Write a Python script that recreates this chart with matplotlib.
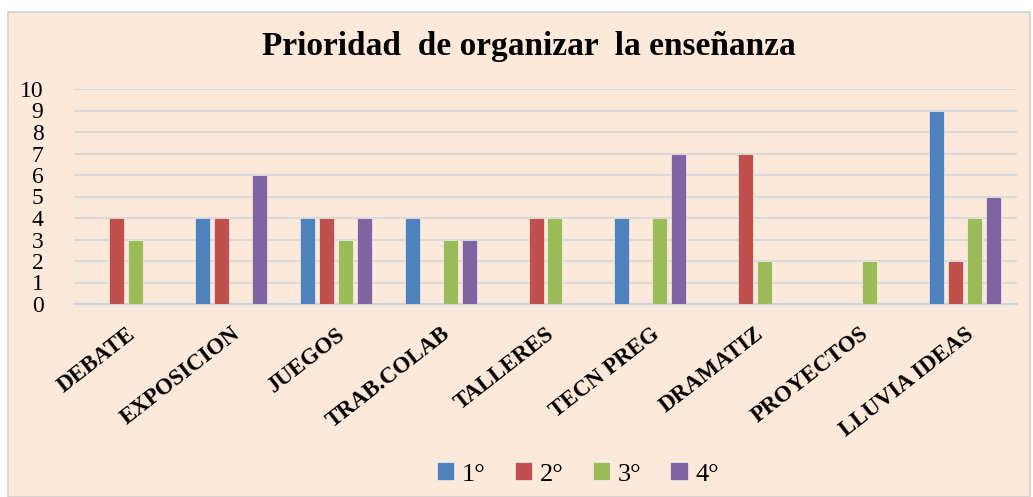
import matplotlib
matplotlib.use("Agg")
import matplotlib.pyplot as plt
import numpy as np
from matplotlib.patches import Rectangle

# data
categorias = ['DEBATE', 'EXPOSICION', 'JUEGOS', 'TRAB.COLAB', 'TALLERES',
              'TECN PREG', 'DRAMATIZ', 'PROYECTOS', 'LLUVIA IDEAS']
series = ['1°', '2°', '3°', '4°']
prim = [0, 4, 4, 4, 0, 4, 0, 0, 9]
seg = [4, 4, 4, 0, 4, 0, 7, 0, 2]
terc = [3, 0, 3, 3, 4, 4, 2, 2, 4]
cuar = [0, 6, 4, 3, 0, 7, 0, 0, 5]

colores = ['#4F81BD', '#C0504D', '#9BBB59', '#8064A2']
fondo = '#FDE9D9'

plt.rcParams['font.family'] = ['Liberation Serif', 'DejaVu Serif']

fig = plt.figure(figsize=(10.33, 4.97), dpi=100)
fig.patch.set_facecolor('white')
# chart frame
fig.patches.append(Rectangle((8/1033, 0), 1 - 11/1033, 1 - 12/497,
                             transform=fig.transFigure, facecolor=fondo,
                             edgecolor='#D0D0D0', linewidth=1.2, zorder=-10))

ax = fig.add_axes([74/1033, 1 - 304/497, (1017 - 74)/1033, (304 - 89)/497])
ax.set_facecolor('none')

x = np.arange(len(categorias))
paso = 0.181
ancho = 0.143
for i, (vals, nom) in enumerate(zip([prim, seg, terc, cuar], series)):
    ax.bar(x + (i - 1.5) * paso, vals, width=ancho, color=colores[i],
           edgecolor='white', linewidth=0.4, label=nom, zorder=3)

ax.set_xlim(-0.5, len(categorias) - 0.5)
ax.set_ylim(0, 10)
ax.set_yticks(range(0, 11))
ax.yaxis.grid(True, color='#D9D9D9', linewidth=1.5, zorder=0)
ax.set_axisbelow(True)
for s in ['top', 'right', 'left']:
    ax.spines[s].set_visible(False)
ax.spines['bottom'].set_color('#C5D3E3')
ax.spines['bottom'].set_linewidth(1.5)
ax.tick_params(axis='y', length=0, pad=22, labelsize=17)
ax.tick_params(axis='x', length=0, pad=14)
ax.set_xticks(x)
ax.set_xticklabels(categorias, rotation=38, ha='right', va='top',
                   rotation_mode='anchor', fontsize=16.5, fontweight='bold')

fig.text(529/1033, 1 - 47/497, 'Prioridad  de organizar  la enseñanza',
         ha='center', va='center', fontsize=24, fontweight='bold')

fig.legend(loc='center', bbox_to_anchor=(578/1033, 1 - 474/497), ncol=4,
           frameon=False, fontsize=19, handlelength=0.65, handleheight=0.65,
           handletextpad=0.3, columnspacing=1.1)

fig.savefig('out.png', dpi=100, facecolor=fig.get_facecolor())
